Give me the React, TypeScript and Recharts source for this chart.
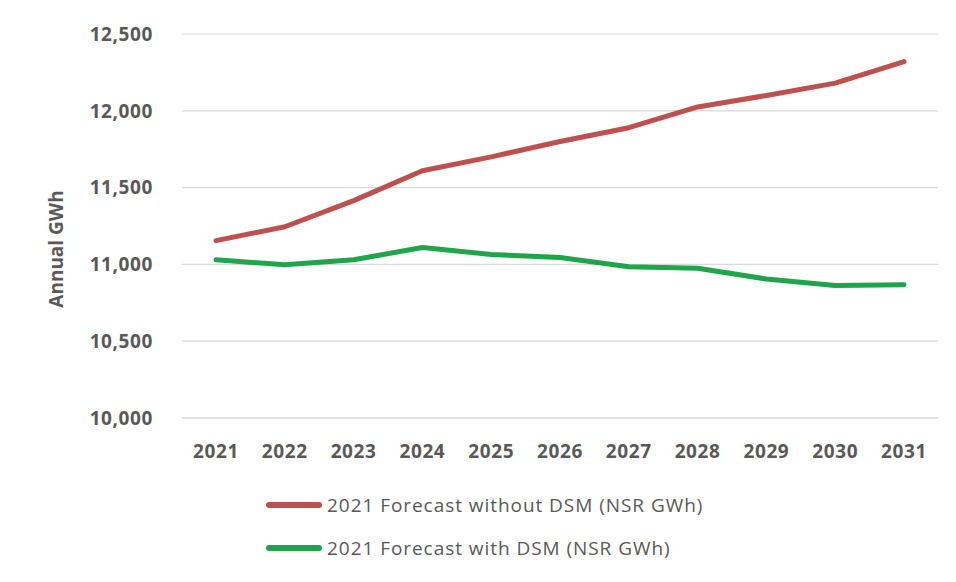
import { LineChart, Line, XAxis, YAxis, CartesianGrid, Legend } from "recharts";

// forecast years shown on the x axis
const years = ["2021", "2022", "2023", "2024", "2025", "2026", "2027", "2028", "2029", "2030", "2031"];

// annual energy, GWh
const withoutDsm = [11155, 11245, 11415, 11610, 11700, 11800, 11890, 12025, 12100, 12180, 12320];
const withDsm = [11030, 10998, 11030, 11110, 11065, 11045, 10985, 10975, 10905, 10862, 10868];

const yTicks = [10000, 10500, 11000, 11500, 12000, 12500];

const seriesNames = {
  without: "2021 Forecast without DSM (NSR GWh)",
  with: "2021 Forecast with DSM (NSR GWh)",
};

const RED = "#c0504d";
const GREEN = "#1fa64b";
const TEXT = "#595959";
const GRID = "#d9d9d9";
const FONT = "'Open Sans', sans-serif";

const data = years.map((year, i) => ({
  year,
  without: withoutDsm[i],
  with: withDsm[i],
}));

const legendOrder = ["without", "with"];

// stacked legend with a thick line swatch in front of each label
const LegendList = ({ payload }: { payload?: any[] }) => {
  const items = [...(payload || [])].sort(
    (a: any, b: any) => legendOrder.indexOf(a.dataKey) - legendOrder.indexOf(b.dataKey)
  );
  return (
    <div style={{ display: "flex", flexDirection: "column", gap: 17 }}>
      {items.map((entry: any) => (
        <div key={entry.value} style={{ display: "flex", alignItems: "center", height: 26 }}>
          <span
            style={{
              display: "inline-block",
              width: 56,
              height: 6,
              borderRadius: 3,
              background: entry.color,
              marginRight: 5,
            }}
          />
          <span style={{ color: TEXT, fontSize: 19, fontFamily: FONT, letterSpacing: 0.95, whiteSpace: "nowrap" }}>
            {entry.value}
          </span>
        </div>
      ))}
    </div>
  );
};

// rotated axis title, centred beside the value axis
const AxisTitle = () => (
  <text
    x={56}
    y={249}
    transform="rotate(-90, 56, 249)"
    textAnchor="middle"
    dominantBaseline="central"
    fill={TEXT}
    fontSize={19}
    fontWeight={700}
    fontFamily={FONT}
  >
    Annual GWh
  </text>
);

export default function App() {
  return (
    <div style={{ position: "relative", width: 956, height: 582, margin: -8, background: "#fff", overflow: "hidden" }}>
      <div
        style={{
          position: "absolute",
          left: 5,
          top: 4,
          width: 951,
          height: 578,
          boxSizing: "border-box",
          borderTop: "2px solid #d6d6d6",
          borderLeft: "2px solid #d6d6d6",
        }}
      />
      <LineChart
        width={956}
        height={582}
        data={data}
        margin={{ top: 34, right: 18, left: 0, bottom: 134 }}
      >
        <CartesianGrid vertical={false} stroke={GRID} strokeWidth={1.2} />
        <XAxis
          dataKey="year"
          padding={{ left: 34, right: 34 }}
          axisLine={{ stroke: GRID, strokeWidth: 1.2 }}
          tickLine={false}
          tickSize={0}
          tickMargin={27}
          interval={0}
          tick={{ fill: TEXT, fontSize: 19, fontWeight: 700, fontFamily: FONT, letterSpacing: 0.6 }}
        />
        <YAxis
          width={182}
          domain={[10000, 12500]}
          ticks={yTicks}
          axisLine={false}
          tickLine={false}
          tickSize={0}
          tickMargin={29}
          tickFormatter={(v: number) => v.toLocaleString("en-US")}
          tick={{ fill: TEXT, fontSize: 19, fontWeight: 700, fontFamily: FONT, letterSpacing: 0.6 }}
          label={{ content: <AxisTitle /> }}
        />
        <Legend
          content={<LegendList />}
          wrapperStyle={{ position: "absolute", left: 266, top: 492, width: 500, height: 0, overflow: "visible" }}
        />
        <Line
          type="linear"
          dataKey="without"
          name={seriesNames.without}
          stroke={RED}
          strokeWidth={5}
          strokeLinecap="round"
          strokeLinejoin="round"
          dot={false}
          isAnimationActive={false}
        />
        <Line
          type="linear"
          dataKey="with"
          name={seriesNames.with}
          stroke={GREEN}
          strokeWidth={5}
          strokeLinecap="round"
          strokeLinejoin="round"
          dot={false}
          isAnimationActive={false}
        />
      </LineChart>
    </div>
  );
}
